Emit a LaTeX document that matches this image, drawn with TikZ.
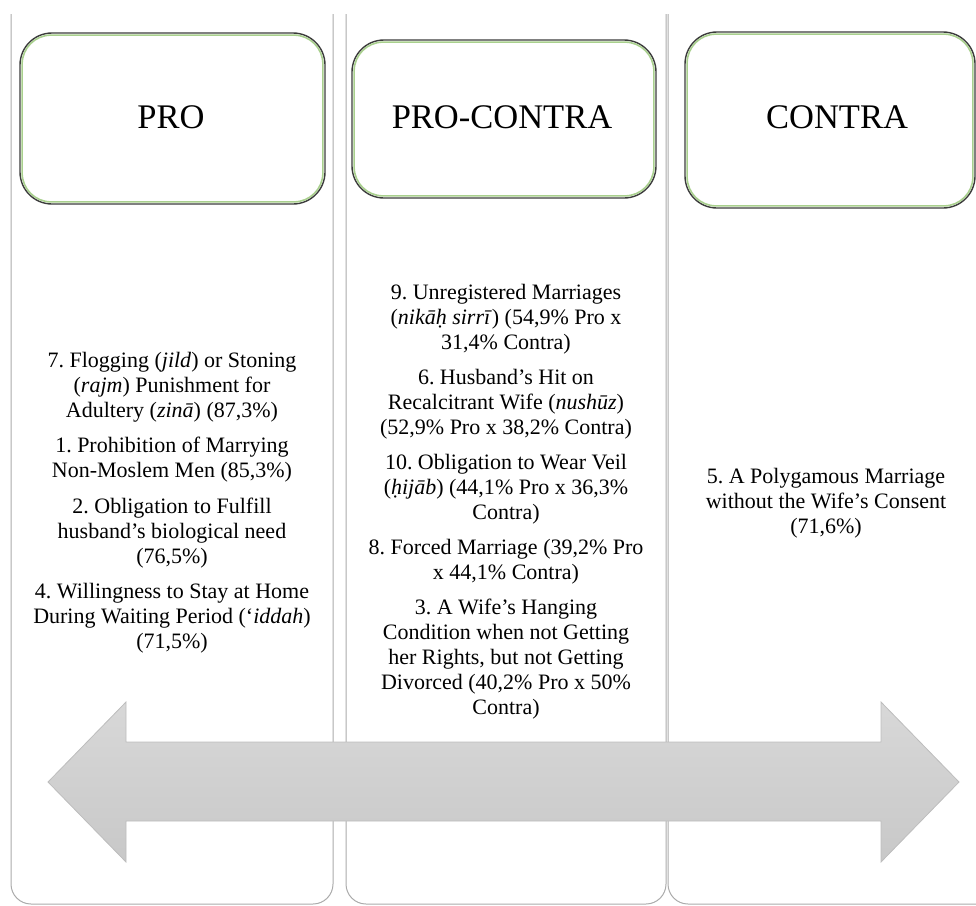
\documentclass[tikz,border=0pt]{standalone}
\usepackage{fontspec}
\setmainfont{Liberation Serif}
\frenchspacing
\definecolor{panelgray}{HTML}{ABABAB}
\definecolor{boxline}{HTML}{3C3C3C}
\definecolor{boxgreen}{HTML}{A9D08E}
\definecolor{arrowtop}{HTML}{D8D8D8}
\definecolor{arrowbot}{HTML}{C8C8C8}
\definecolor{arrowline}{HTML}{BDBDBD}
\tikzset{
  panel/.style={draw=panelgray, line width=1pt, rounded corners=20pt},
  headbox/.style={draw=boxline, line width=1.4pt, rounded corners=32pt, fill=white, inner sep=0pt},
  greenline/.style={draw=boxgreen, line width=1.6pt, rounded corners=29pt},
  headtext/.style={font=\fontsize{34.5}{40}\selectfont, inner sep=0pt},
  coltext/.style={align=center, font=\fontsize{22}{25}\selectfont, inner sep=0pt, anchor=north},
  bigarrow/.style={draw=arrowline, line width=0.8pt, top color=arrowtop, bottom color=arrowbot}
}
\begin{document}
\begin{tikzpicture}[x=1pt,y=-1pt]
\useasboundingbox (0,0) rectangle (976,905);
\clip (0,0) rectangle (976,905);
% column panels
\draw[panel] (11,14) -- (11,904) -- (333,904) -- (333,14);
\draw[panel] (346,14) -- (346,904) -- (666,904) -- (666,14);
\draw[panel] (668,14) -- (668,904) -- (1000,904) -- (1000,14);
% heading boxes
\node[headbox, minimum width=305pt, minimum height=171pt] (boxpro) at (172.5,118.5) {};
\node[headbox, minimum width=304pt, minimum height=158pt] (boxpc) at (504,119) {};
\node[headbox, minimum width=290pt, minimum height=176pt] (boxcon) at (830,120) {};
\foreach \b in {boxpro,boxpc,boxcon}{
  \draw[greenline] ([shift={(2.8,2.8)}]\b.north west) rectangle ([shift={(-2.8,-2.8)}]\b.south east);
}
\node[headtext] (tpro) at (171,117) {PRO};
\node[headtext] (tpc) at (502,117) {PRO-CONTRA};
\node[headtext] (tcon) at (837,117) {CONTRA};
% column texts
\node[coltext] (lefttext) at (172,349.5) {\strut 7. Flogging (\textit{jild}) or Stoning\\
(\textit{rajm}) Punishment for\\
Adultery (\textit{zinā}) (87,3\%)\\[10.5pt]
1. Prohibition of Marrying\\
Non-Moslem Men (85,3\%)\\[10.5pt]
2. Obligation to Fulfill\\
husband’s biological need\\
(76,5\%)\\[10.5pt]
4. Willingness to Stay at Home\\
During Waiting Period (‘\textit{iddah})\\
(71,5\%)};
\node[coltext] (midtext) at (506,281.5) {\strut 9. Unregistered Marriages\\
(\textit{nikāḥ sirrī}) (54,9\% Pro x\\
31,4\% Contra)\\[10pt]
6. Husband’s Hit on\\
Recalcitrant Wife (\textit{nushūz})\\
(52,9\% Pro x 38,2\% Contra)\\[10pt]
10. Obligation to Wear Veil\\
(\textit{ḥijāb}) (44,1\% Pro x 36,3\%\\
Contra)\\[10pt]
8. Forced Marriage (39,2\% Pro\\
x 44,1\% Contra)\\[10pt]
3. A Wife’s Hanging\\
Condition when not Getting\\
her Rights, but not Getting\\
Divorced (40,2\% Pro x 50\%\\
Contra)};
\node[coltext] (righttext) at (826,465.5) {\strut 5. A Polygamous Marriage\\
without the Wife’s Consent\\
(71,6\%)};
% double arrow
\draw[bigarrow] (48,782) -- (126,702) -- (126,742) -- (881,742) -- (881,702) -- (959,782)
  -- (881,862) -- (881,821) -- (126,821) -- (126,862) -- cycle;
\end{tikzpicture}
\end{document}
